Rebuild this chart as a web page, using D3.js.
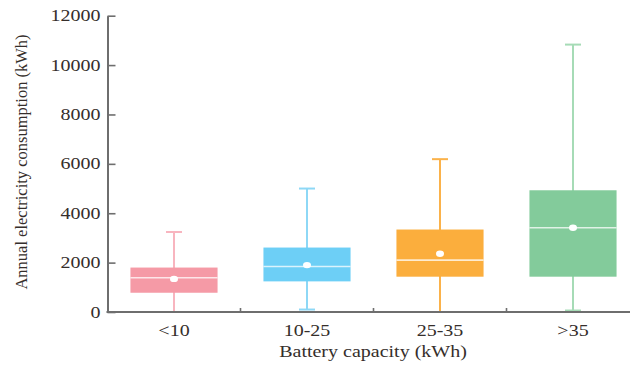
<!DOCTYPE html>
<meta charset="utf-8">
<style>
    body { margin: 0; background: #fff; }
    text { font-family: "Liberation Serif", "Times New Roman", serif; fill: #352e2b; }
</style>
<svg width="630" height="365"></svg>
<script src="https://d3js.org/d3.v7.min.js"></script>
<script>
    var categories = ["<10", "10-25", "25-35", ">35"];
    var whiskerLow = [0, 100, 0, 60];
    var q1 = [780, 1240, 1430, 1430];
    var median = [1390, 1840, 2100, 3410];
    var mean = [1340, 1900, 2360, 3410];
    var q3 = [1800, 2610, 3340, 4930];
    var whiskerHigh = [3240, 5000, 6190, 10830];
    var yTicks = [0, 2000, 4000, 6000, 8000, 10000, 12000];
    var boxColors = ["#f59aa6", "#6dcff6", "#fbae3d", "#83cb9b"];
    var lineColors = ["#f8b5bf", "#8ed8f6", "#fbb24a", "#a6dbb6"];

    var svg = d3.select("svg");
    var axisColor = "#6e6e6e";
    var sx = 1.25; // horizontal text stretch seen in the reference

    var x = d3.scaleBand().domain(categories).range([107.5, 639.5]).padding(0);
    var y = d3.scaleLinear().domain([0, 12000]).range([312, 15.7]);

    var data = categories.map(function(c, i) {
        return {cat: c, lo: whiskerLow[i], q1: q1[i], med: median[i], mean: mean[i],
                q3: q3[i], hi: whiskerHigh[i], fill: boxColors[i], line: lineColors[i]};
    });

    var boxW = x.bandwidth() * 0.655,
        capW = 16;

    var g = svg.selectAll(".box")
        .data(data)
        .enter().append("g")
        .attr("class", "box")
        .attr("transform", function(d) { return "translate(" + (x(d.cat) + x.bandwidth() / 2) + ",0)"; });

    g.append("line")
        .attr("x1", 0).attr("x2", 0)
        .attr("y1", function(d) { return y(d.lo); })
        .attr("y2", function(d) { return y(d.hi); })
        .attr("stroke", function(d) { return d.line; })
        .attr("stroke-width", 2);
    g.append("line")
        .attr("x1", -capW / 2).attr("x2", capW / 2)
        .attr("y1", function(d) { return y(d.hi); })
        .attr("y2", function(d) { return y(d.hi); })
        .attr("stroke", function(d) { return d.line; })
        .attr("stroke-width", 2);
    g.append("line")
        .attr("x1", -capW / 2).attr("x2", capW / 2)
        .attr("y1", function(d) { return y(d.lo); })
        .attr("y2", function(d) { return y(d.lo); })
        .attr("stroke", function(d) { return d.line; })
        .attr("stroke-width", 2);
    g.append("rect")
        .attr("x", -boxW / 2)
        .attr("width", boxW)
        .attr("y", function(d) { return y(d.q3); })
        .attr("height", function(d) { return y(d.q1) - y(d.q3); })
        .attr("fill", function(d) { return d.fill; });
    g.append("line")
        .attr("x1", -boxW / 2).attr("x2", boxW / 2)
        .attr("y1", function(d) { return y(d.med); })
        .attr("y2", function(d) { return y(d.med); })
        .attr("stroke", "#fff")
        .attr("stroke-opacity", 0.75)
        .attr("stroke-width", 1.6);
    g.append("ellipse")
        .attr("cy", function(d) { return y(d.mean); })
        .attr("rx", 4).attr("ry", 3.2)
        .attr("fill", "#fff");

    // y axis, ticks pointing inward
    var yAxis = svg.append("g")
        .attr("transform", "translate(107.5,0)")
        .call(d3.axisLeft(y).tickValues(yTicks).tickFormat(d3.format("d"))
            .tickSize(-8).tickPadding(0).tickSizeOuter(0));
    yAxis.select(".domain").attr("stroke", axisColor).attr("stroke-width", 2);
    yAxis.selectAll(".tick line").attr("stroke", axisColor).attr("stroke-width", 1.6);
    yAxis.selectAll(".tick text")
        .attr("x", null)
        .attr("transform", "translate(-7,0) scale(" + sx + ",1)")
        .attr("font-size", 16);

    // x axis: labels at centres, small ticks between groups
    var xAxis = svg.append("g")
        .attr("transform", "translate(0,312)")
        .call(d3.axisBottom(x).tickSize(0).tickPadding(0));
    xAxis.select(".domain").remove();
    xAxis.append("line")
        .attr("x1", 106.5).attr("x2", 630)
        .attr("stroke", axisColor).attr("stroke-width", 2);
    xAxis.selectAll(".sep")
        .data(categories.slice(1))
        .enter().append("line")
        .attr("class", "sep")
        .attr("x1", function(d) { return x(d); })
        .attr("x2", function(d) { return x(d); })
        .attr("y1", 0).attr("y2", -4)
        .attr("stroke", axisColor).attr("stroke-width", 1.6);
    xAxis.selectAll(".tick text")
        .attr("y", null).attr("dy", null)
        .attr("transform", "translate(0,24) scale(" + sx + ",1)")
        .attr("font-size", 16);

    svg.append("text")
        .attr("transform", "translate(373,357) scale(" + sx + ",1)")
        .attr("text-anchor", "middle")
        .attr("font-size", 16)
        .text("Battery capacity (kWh)");

    svg.append("text")
        .attr("transform", "translate(27,162) rotate(-90)")
        .attr("text-anchor", "middle")
        .attr("font-size", 16.5)
        .text("Annual electricity consumption (kWh)");
</script>
